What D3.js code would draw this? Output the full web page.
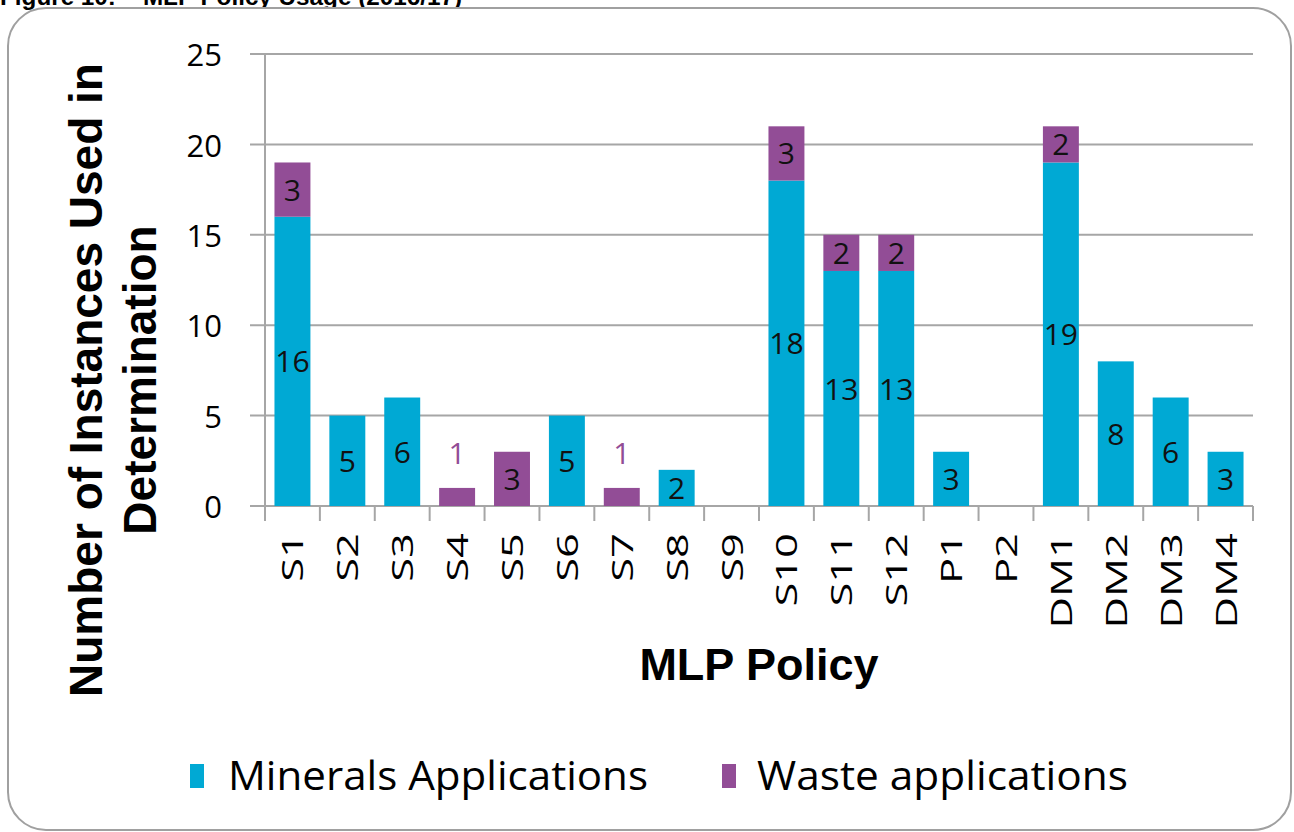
<!DOCTYPE html>
<html>
<head>
<meta charset="utf-8">
<script src="https://d3js.org/d3.v7.min.js"></script>
<style>
  body { margin: 0; background: #fff; }
  svg { display: block; }
</style>
</head>
<body>
<div id="chart"></div>
<script>
// data
const categories = ["S1","S2","S3","S4","S5","S6","S7","S8","S9","S10","S11","S12","P1","P2","DM1","DM2","DM3","DM4"];
const minerals = [16,5,6,0,0,5,0,2,0,18,13,13,3,0,19,8,6,3];
const waste    = [3,0,0,1,3,0,1,0,0,3,2,2,0,0,2,0,0,0];
const seriesNames = ["Minerals Applications","Waste applications"];
const yTicks = [0,5,10,15,20,25];

const W = 1294, H = 832;
const colMin = "#00a9d4", colWaste = "#924d96";
const txtFont = "'Open Sans', 'Noto Sans', sans-serif";
const boldFont = "'Liberation Sans', Arial, sans-serif";

const svg = d3.select("#chart").append("svg")
    .attr("width", W).attr("height", H);

// title line cut off at the top of the page
svg.append("text")
    .attr("x", 0).attr("y", 5)
    .attr("font-family", boldFont).attr("font-weight", "bold")
    .attr("font-size", 24)
    .attr("textLength", 462).attr("lengthAdjust", "spacingAndGlyphs")
    .text("Figure 10: \u2013 MLP Policy Usage (2016/17)");

// rounded panel
svg.append("rect")
    .attr("x", 8).attr("y", 8).attr("width", 1283).attr("height", 822)
    .attr("rx", 38).attr("ry", 38)
    .attr("fill", "#fff").attr("stroke", "#a0a0a0").attr("stroke-width", 2);

const x = d3.scaleBand().domain(categories).range([265, 1253])
    .paddingInner(0.345).paddingOuter(0.1725);
const y = d3.scaleLinear().domain([0, 25]).range([506, 54]);

const grid = svg.append("g");
// horizontal gridlines, they start at the tick end left of the axis
grid.selectAll("line.h").data(yTicks).join("line")
    .attr("x1", 250).attr("x2", 1253)
    .attr("y1", d => y(d)).attr("y2", d => y(d))
    .attr("stroke", "#a6a6a6").attr("stroke-width", 2);
// y axis line
grid.append("line")
    .attr("x1", 265).attr("x2", 265).attr("y1", y(25)).attr("y2", y(0))
    .attr("stroke", "#a6a6a6").attr("stroke-width", 2);
// x ticks at band boundaries
const bounds = d3.range(categories.length + 1).map(i => x.range()[0] + i * x.step());
grid.selectAll("line.xt").data(bounds).join("line")
    .attr("x1", d => d).attr("x2", d => d)
    .attr("y1", y(0)).attr("y2", y(0) + 15)
    .attr("stroke", "#a6a6a6").attr("stroke-width", 2);

// y tick labels
svg.append("g").selectAll("text").data(yTicks).join("text")
    .attr("x", 222).attr("y", d => y(d) + 4)
    .attr("text-anchor", "end").attr("dominant-baseline", "middle")
    .attr("font-family", txtFont).attr("font-size", 31)
    .text(d => d);

// stacked bars
const rows = categories.map((c, i) => ({cat: c, min: minerals[i], waste: waste[i]}));
const stack = d3.stack().keys(["min", "waste"])(rows);
const colors = [colMin, colWaste];

stack.forEach((layer, k) => {
  svg.append("g").selectAll("rect").data(layer.filter(d => d[1] > d[0])).join("rect")
      .attr("x", d => x(d.data.cat))
      .attr("width", x.bandwidth())
      .attr("y", d => y(d[1]))
      .attr("height", d => y(d[0]) - y(d[1]))
      .attr("fill", colors[k]);
});

// value labels
stack.forEach((layer, k) => {
  svg.append("g").selectAll("text").data(layer.filter(d => d[1] > d[0])).join("text")
      .attr("x", d => x(d.data.cat) + x.bandwidth() / 2)
      .attr("y", d => {
        const small = (d[1] - d[0]) < 2 && k === 1;
        return small ? y(d[1]) - 32 : (y(d[0]) + y(d[1])) / 2 + 3;
      })
      .attr("text-anchor", "middle").attr("dominant-baseline", "middle")
      .attr("font-family", txtFont).attr("font-size", 30)
      .attr("fill", d => ((d[1] - d[0]) < 2 && k === 1) ? colWaste : "#111")
      .text(d => d[1] - d[0]);
});

// x labels, rotated
svg.append("g").selectAll("text").data(categories).join("text")
    .attr("transform", d => `translate(${x(d) + x.bandwidth() / 2 + 11},533) rotate(-90) scale(1.45,1)`)
    .attr("text-anchor", "end")
    .attr("font-family", txtFont).attr("font-size", 30)
    .text(d => d);

// axis titles
svg.append("text")
    .attr("x", 759).attr("y", 680)
    .attr("text-anchor", "middle")
    .attr("font-family", boldFont).attr("font-weight", "bold").attr("font-size", 45)
    .text("MLP Policy");

const yt = svg.append("text")
    .attr("transform", "translate(102,380) rotate(-90)")
    .attr("text-anchor", "middle")
    .attr("font-family", boldFont).attr("font-weight", "bold").attr("font-size", 46);
yt.append("tspan").attr("x", 0).attr("y", 0).text("Number of Instances Used in");
yt.append("tspan").attr("x", 0).attr("y", 54).text("Determination");

// legend
const legend = [
  {name: seriesNames[0], color: colMin, rx: 190, tx: 228, len: 420},
  {name: seriesNames[1], color: colWaste, rx: 722, tx: 757, len: 371}
];
const lg = svg.append("g");
lg.selectAll("rect").data(legend).join("rect")
    .attr("x", d => d.rx).attr("y", 764).attr("width", 14).attr("height", 24)
    .attr("fill", d => d.color);
lg.selectAll("text").data(legend).join("text")
    .attr("x", d => d.tx).attr("y", 790)
    .attr("font-family", txtFont).attr("font-size", 41)
    .attr("textLength", d => d.len).attr("lengthAdjust", "spacingAndGlyphs")
    .text(d => d.name);
</script>
</body>
</html>
